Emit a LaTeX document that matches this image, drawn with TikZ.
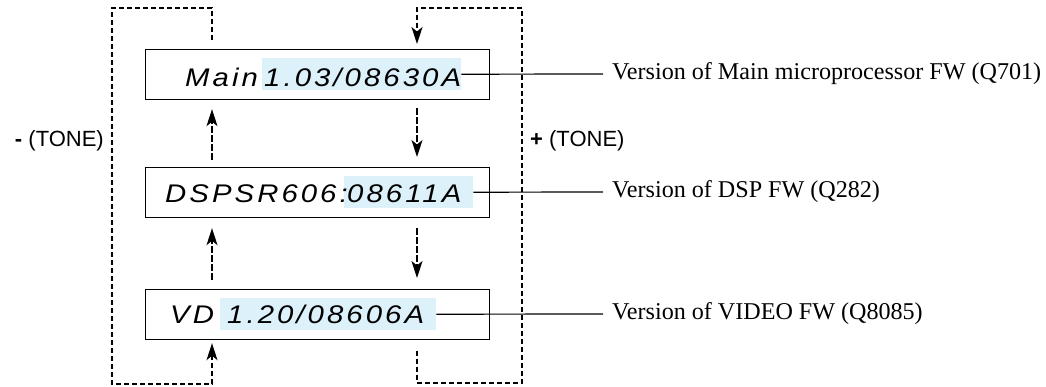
\documentclass[tikz,border=0pt]{standalone}
\usepackage{fontspec}
\setmainfont{Liberation Serif}
\newfontfamily\lcd[LetterSpace=12,FakeStretch=1.15]{Liberation Sans}
\newfontfamily\hel{Liberation Sans}
\usetikzlibrary{arrows.meta}
\definecolor{hlblue}{RGB}{221,241,251}
\begin{document}
\begin{tikzpicture}[x=1pt,y=-1pt,
  box/.style={draw, line width=1.2pt, minimum width=344pt, minimum height=50pt, inner sep=0pt, anchor=north west},
  hl/.style={fill=hlblue, inner sep=0pt, minimum height=32pt, anchor=north west},
  lcdtxt/.style={inner sep=0pt, anchor=base west, font=\lcd\itshape\fontsize{25.5}{25.5}\selectfont},
  lbl/.style={inner sep=0pt, inner xsep=9pt, anchor=west, font=\fontsize{24.1}{24}\selectfont},
  tone/.style={inner sep=0pt, font=\hel\fontsize{22}{22}\selectfont},
  loopline/.style={line width=1.3pt, dash pattern=on 5pt off 3pt},
  flow/.style={line width=1.3pt, dash pattern=on 7pt off 2pt},
  tip/.style={-{Stealth[length=17pt,width=11pt,inset=4.5pt]}},
  lead/.style={line width=1.2pt}]
\useasboundingbox (0,0) rectangle (1046,386);
\coordinate (L) at (212,0);
\coordinate (R) at (417,0);
% boxes
\node[box] (b1) at (145,49) {};
\node[box] (b2) at (145,167) {};
\node[box] (b3) at (145,289) {};
% highlights
\node[hl, minimum width=199pt] (h1) at (262,58) {};
\node[hl, minimum width=129pt] (h2) at (344,176) {};
\node[hl, minimum width=216pt] (h3) at (220,298) {};
% box texts
\node[lcdtxt] (m1) at (185,86) {Main};
\node[lcdtxt] (v1) at (264,86) {1.03/08630A};
\node[lcdtxt] (m2) at (165,202) {DSPSR606:};
\node[lcdtxt] (v2) at (347,202) {08611A};
\node[lcdtxt] (m3) at (170,323) {VD};
\node[lcdtxt] (v3) at (227,323) {1.20/08606A};
% labels
\node[lbl] (t1) at (603,74) {Version of Main microprocessor FW (Q701)};
\node[lbl] (t2) at (603,192) {Version of DSP FW (Q282)};
\node[lbl] (t3) at (603,314) {Version of VIDEO FW (Q8085)};
\draw[lead] (h1.east) -- (t1.west);
\draw[lead] (h2.east) -- (t2.west);
\draw[lead] (h3.east) -- (t3.west);
% tone labels
\node[tone, anchor=base east] (tm) at (104,146) {{\bfseries -} (TONE)};
\node[tone, anchor=base west] (tp) at (530,146) {{\bfseries +} (TONE)};
% flows between boxes
\draw[flow, tip] ([yshift=7pt]b2.north -| L) -- ([yshift=-9pt]b1.south -| L);
\draw[flow, tip] ([yshift=9pt]b3.north -| L) -- ([yshift=-10pt]b2.south -| L);
\draw[flow, tip] ([yshift=-8pt]b1.south -| R) -- ([yshift=10pt]b2.north -| R);
\draw[flow, tip] ([yshift=-10pt]b2.south -| R) -- ([yshift=11pt]b3.north -| R);
% loops
\draw[loopline, tip] ([yshift=9pt]b1.north -| L) -- (212,8) -- (112,8) -- (112,384) -- (212,384) -- ([yshift=-3pt]b3.south -| L);
\draw[loopline, tip] ([yshift=-11pt]b3.south -| R) -- (417,383) -- (522,383) -- (522,8) -- (417,8) -- ([yshift=5pt]b1.north -| R);
\end{tikzpicture}
\end{document}
